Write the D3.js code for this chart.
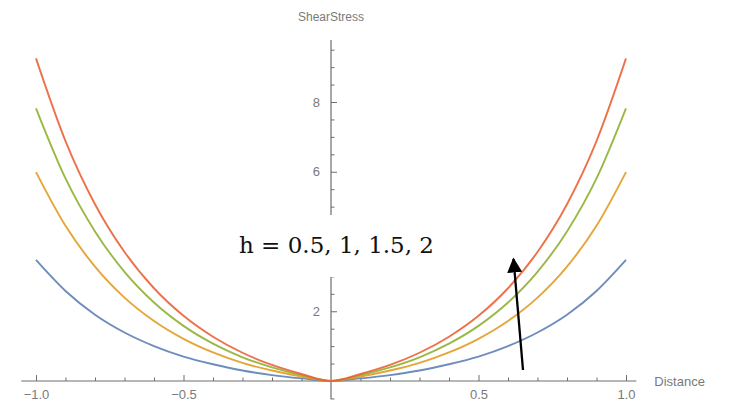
<!DOCTYPE html>
<html>
<head>
<meta charset="utf-8">
<script src="https://cdn.jsdelivr.net/npm/d3@7/dist/d3.min.js"></script>
<style>
  html, body { margin: 0; padding: 0; background: #fff; }
  svg { display: block; }
</style>
</head>
<body>
<svg id="chart" width="734" height="412"></svg>
<script>
// ---- data ----
const distance = [-1.0, -0.9, -0.8, -0.7, -0.6, -0.5, -0.4, -0.3, -0.2, -0.1, 0,
                   0.1, 0.2, 0.3, 0.4, 0.5, 0.6, 0.7, 0.8, 0.9, 1.0];
const hLabels = ["0.5", "1", "1.5", "2"];
const stressH05 = [3.47, 2.58, 1.90, 1.39, 1.00, 0.70, 0.48, 0.30, 0.17, 0.075, 0,
                   0.075, 0.17, 0.30, 0.48, 0.70, 1.00, 1.39, 1.90, 2.58, 3.47];
const stressH1  = [5.99, 4.45, 3.28, 2.39, 1.72, 1.21, 0.82, 0.52, 0.30, 0.13, 0,
                   0.13, 0.30, 0.52, 0.82, 1.21, 1.72, 2.39, 3.28, 4.45, 5.99];
const stressH15 = [7.82, 5.81, 4.29, 3.13, 2.25, 1.58, 1.07, 0.68, 0.39, 0.17, 0,
                   0.17, 0.39, 0.68, 1.07, 1.58, 2.25, 3.13, 4.29, 5.81, 7.82];
const stressH2  = [9.25, 6.88, 5.07, 3.70, 2.66, 1.87, 1.27, 0.81, 0.46, 0.20, 0,
                   0.20, 0.46, 0.81, 1.27, 1.87, 2.66, 3.70, 5.07, 6.88, 9.25];
const xMajorTicks = [-1.0, -0.5, 0.5, 1.0];
const xTickLabels = ["\u22121.0", "\u22120.5", "0.5", "1.0"];
const yMajorTicks = [2, 4, 6, 8];
const yTickLabels = ["2", "4", "6", "8"];
const xTitle = "Distance";
const yTitle = "ShearStress";
const annotation = "h = 0.5, 1, 1.5, 2";

const seriesList = [stressH05, stressH1, stressH15, stressH2];
const colors = ["#5E81B5", "#E19C24", "#8FB032", "#EB6235"];

// ---- layout ----
const svg = d3.select("#chart");
const x = d3.scaleLinear().domain([-1, 1]).range([36, 626]);
const y = d3.scaleLinear().domain([0, 8]).range([381, 102]);
const xAxisY = y(0);
const yAxisX = x(0);
const axisColor = "#6e6e6e";
const labelColor = "#7a7a7a";
const fontFam = "'Liberation Sans', Arial, sans-serif";

// annotation box geometry (white box that hides part of the y axis)
const box = { x: 226, y: 215, w: 218, h: 62 };

// x axis line
const xDom = [-1.05, 1.035];
svg.append("line")
  .attr("x1", x(xDom[0])).attr("x2", x(xDom[1]))
  .attr("y1", xAxisY).attr("y2", xAxisY)
  .attr("stroke", axisColor).attr("stroke-width", 1.2);

// y axis line
const yDom = [-0.52, 9.78];
svg.append("line")
  .attr("x1", yAxisX).attr("x2", yAxisX)
  .attr("y1", y(yDom[0])).attr("y2", y(yDom[1]))
  .attr("stroke", axisColor).attr("stroke-width", 1.2);

// x minor ticks
const xMinor = d3.range(-10, 11).map(d => d / 10)
  .filter(d => Math.abs(d) > 1e-9 && Math.abs(Math.abs(d) - 0.5) > 1e-9 && Math.abs(Math.abs(d) - 1) > 1e-9);
const gxMinor = svg.append("g").attr("transform", `translate(0,${xAxisY})`)
  .call(d3.axisBottom(x).tickValues(xMinor).tickSize(-3.5).tickFormat(""));
gxMinor.select(".domain").remove();
gxMinor.selectAll("line").attr("stroke", axisColor);

// x major ticks + labels
const gx = svg.append("g").attr("transform", `translate(0,${xAxisY})`)
  .call(d3.axisBottom(x).tickValues(xMajorTicks).tickSize(-6).tickPadding(9)
    .tickFormat((d, i) => xTickLabels[i]));
gx.select(".domain").remove();
gx.selectAll("line").attr("stroke", axisColor);
gx.selectAll("text").attr("fill", labelColor).style("font-family", fontFam).style("font-size", "13px");

// y minor ticks (every 0.5)
const yMinor = d3.range(-1, 20).map(d => d / 2).filter(d => d % 2 !== 0);
const gyMinor = svg.append("g").attr("transform", `translate(${yAxisX},0)`)
  .call(d3.axisLeft(y).tickValues(yMinor).tickSize(-3.5).tickFormat(""));
gyMinor.select(".domain").remove();
gyMinor.selectAll("line").attr("stroke", axisColor);

// y major ticks + labels
const gy = svg.append("g").attr("transform", `translate(${yAxisX},0)`)
  .call(d3.axisLeft(y).tickValues(yMajorTicks).tickSize(-6).tickPadding(11)
    .tickFormat((d, i) => yTickLabels[i]));
gy.select(".domain").remove();
gy.selectAll("line").attr("stroke", axisColor);
gy.selectAll("text").attr("fill", labelColor).style("font-family", fontFam).style("font-size", "13px");
// labels hidden under the annotation box are not drawn (as in the reference)
gy.selectAll(".tick").filter(d => y(d) > box.y && y(d) < box.y + box.h).select("text").remove();

// axis titles
svg.append("text").attr("x", yAxisX).attr("y", 21)
  .attr("text-anchor", "middle").attr("fill", labelColor)
  .style("font-family", fontFam).style("font-size", "12px").text(yTitle);
svg.append("text").attr("x", x(xDom[1]) + 18).attr("y", xAxisY + 5)
  .attr("text-anchor", "start").attr("fill", labelColor)
  .style("font-family", fontFam).style("font-size", "13px").text(xTitle);

// curves
const line = d3.line()
  .x((d, i) => x(distance[i]))
  .y(d => y(d))
  .curve(d3.curveMonotoneX);
seriesList.forEach((s, k) => {
  svg.append("path").datum(s)
    .attr("d", line)
    .attr("fill", "none")
    .attr("stroke", colors[k])
    .attr("stroke-width", 1.9)
    .attr("stroke-opacity", 0.9);
});

// annotation box + text
svg.append("rect").attr("x", box.x).attr("y", box.y).attr("width", box.w).attr("height", box.h).attr("fill", "#fff");
svg.append("text").attr("x", 239).attr("y", 253)
  .attr("fill", "#111")
  .style("font-family", "'DejaVu Serif', 'Liberation Serif', serif")
  .style("font-size", "23px")
  .attr("textLength", 195).attr("lengthAdjust", "spacingAndGlyphs")
  .text(annotation);

// arrow
svg.append("defs").append("marker")
  .attr("id", "ah").attr("viewBox", "0 0 10 10").attr("refX", 9).attr("refY", 5)
  .attr("markerWidth", 6.5).attr("markerHeight", 6.5).attr("orient", "auto")
  .attr("markerUnits", "strokeWidth")
  .append("path").attr("d", "M0,0 L10,5 L0,10 z").attr("fill", "#000");
svg.append("line")
  .attr("x1", 523).attr("y1", 370).attr("x2", 513.5).attr("y2", 259)
  .attr("stroke", "#000").attr("stroke-width", 2.3)
  .attr("marker-end", "url(#ah)");
</script>
</body>
</html>
